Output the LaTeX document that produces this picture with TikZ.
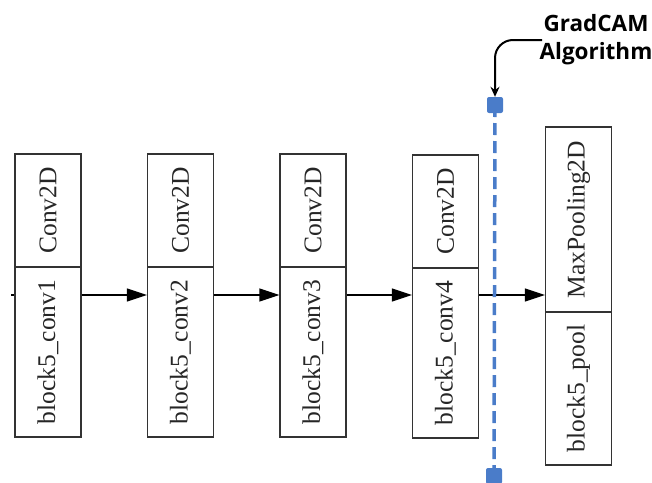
\documentclass[tikz,border=0pt]{standalone}
\usepackage{fontspec}
\setmainfont{Liberation Serif}
\newfontfamily\labelfont{Open Sans}
\usetikzlibrary{arrows.meta}
\definecolor{camblue}{HTML}{4A7CC9}
\definecolor{boxline}{HTML}{333333}
\tikzset{
  sec/.style={draw=boxline, line width=1.3pt, minimum width=66pt, inner sep=0pt,
    font=\fontsize{25.5}{29}\selectfont, text=black!85},
  flow/.style={draw=black, line width=1.3pt, -{Triangle[length=20pt,width=13pt]}},
  camsq/.style={fill=camblue, rounded corners=2pt, minimum size=16pt, inner sep=0pt},
  camline/.style={draw=camblue, line width=3.5pt, dash pattern=on 12pt off 6pt},
  ptr/.style={draw=black, line width=2pt, rounded corners=18pt, -{Stealth[length=10pt,width=9pt]}}
}
\begin{document}
\begin{tikzpicture}[x=1pt,y=-1pt]
\useasboundingbox (0,0) rectangle (652,482);
% boxes
\node[sec, minimum height=113pt] (c1t) at (48,210.5) {\rotatebox{90}{Conv2D}};
\node[sec, minimum height=170pt] (c1b) at (48,352) {\rotatebox{90}{block5\_conv1}};
\node[sec, minimum height=113pt] (c2t) at (180.5,210.5) {\rotatebox{90}{Conv2D}};
\node[sec, minimum height=170pt] (c2b) at (180.5,352) {\rotatebox{90}{block5\_conv2}};
\node[sec, minimum height=113pt] (c3t) at (313,210.5) {\rotatebox{90}{Conv2D}};
\node[sec, minimum height=170pt] (c3b) at (313,352) {\rotatebox{90}{block5\_conv3}};
\node[sec, minimum height=113pt] (c4t) at (445.5,211.5) {\rotatebox{90}{Conv2D}};
\node[sec, minimum height=170pt] (c4b) at (445.5,353) {\rotatebox{90}{block5\_conv4}};
\node[sec, minimum height=185pt] (p5t) at (578.5,219.5) {\rotatebox{90}{MaxPooling2D}};
\node[sec, minimum height=153pt] (p5b) at (578.5,388.5) {\rotatebox{90}{block5\_pool}};
% flow arrows
\coordinate (ay) at (0,295);
\coordinate (stub) at (11,295);
\draw[draw=black, line width=1.5pt] (stub) -- (c1b.west |- ay);
\draw[flow] (c1b.east |- ay) -- (c2b.west |- ay);
\draw[flow] (c2b.east |- ay) -- (c3b.west |- ay);
\draw[flow] (c3b.east |- ay) -- (c4b.west |- ay);
\draw[flow] (c4b.east |- ay) -- (p5t.west |- ay);
% GradCAM cut line
\node[camsq] (sqtop) at (495,105) {};
\node[camsq] (sqbot) at (494,476) {};
\draw[camline] (sqtop.center) -- (sqbot.center);
% label and pointer
\node[font=\labelfont\bfseries\fontsize{22.5}{28}\selectfont, align=center, inner sep=0pt] (lbl) at (596,40) {GradCAM\\Algorithm};
\coordinate (ptrstart) at (542,40);
\coordinate (ptrbend) at (495,40);
\draw[ptr] (ptrstart) -- (ptrbend) -- (sqtop.north);
\end{tikzpicture}
\end{document}
